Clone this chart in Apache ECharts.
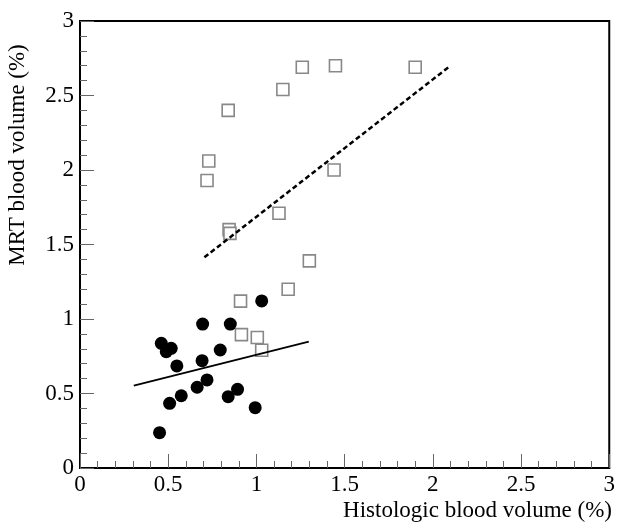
<!DOCTYPE html>
<html>
<head>
<meta charset="utf-8">
<script src="https://cdn.jsdelivr.net/npm/echarts@6/dist/echarts.min.js"></script>
<style>
  html, body { margin: 0; padding: 0; background: #fff; }
  #chart { width: 618px; height: 529px; }
</style>
</head>
<body>
<div id="chart"></div>
<script>
// MRT vs histologic blood volume

const squareX = [1.26, 1.448, 1.90, 1.15, 0.84, 0.73, 0.72, 1.44, 1.128, 0.845, 0.85, 1.30, 1.18, 0.91, 0.915, 1.005, 1.03];
const squareY = [2.69, 2.70, 2.69, 2.54, 2.40, 2.06, 1.93, 2.00, 1.71, 1.60, 1.575, 1.39, 1.20, 1.12, 0.895, 0.876, 0.79];

const circleX = [0.461, 0.489, 0.517, 0.549, 0.695, 0.852, 0.692, 0.795, 0.720, 0.664, 0.574, 0.508, 0.840, 0.893, 0.993, 0.451, 1.030];
const circleY = [0.837, 0.781, 0.803, 0.685, 0.966, 0.966, 0.720, 0.792, 0.591, 0.542, 0.485, 0.434, 0.479, 0.528, 0.405, 0.237, 1.121];

const solidFitX = [0.305, 1.297];
const solidFitY = [0.553, 0.848];
const dashedFitX = [0.705, 2.10];
const dashedFitY = [1.414, 2.70];

const xTitle = 'Histologic blood volume (%)';
const yTitle = 'MRT blood volume (%)';

const zip = (xs, ys) => xs.map((x, i) => [x, ys[i]]);

const font = 'Liberation Serif';

const axisCommon = {
    min: 0,
    max: 3,
    interval: 0.5,
    axisLine: { show: true, lineStyle: { color: '#000', width: 2 } },
    axisTick: { show: true, inside: true, length: 14, lineStyle: { color: '#666', width: 1 } },
    minorTick: { show: true, splitNumber: 5, length: 7, lineStyle: { color: '#666', width: 1 } },
    splitLine: { show: false },
    axisLabel: { color: '#000', fontFamily: font, fontSize: 23 }
};

const chart = echarts.init(document.getElementById('chart'));

chart.setOption({
    backgroundColor: '#fff',
    animation: false,
    grid: {
        left: 80, right: 6, top: 21, bottom: 61,
        show: true, borderColor: '#000', borderWidth: 2
    },
    xAxis: Object.assign({ type: 'value' }, axisCommon, {
        axisLabel: Object.assign({}, axisCommon.axisLabel, { margin: 5 })
    }),
    yAxis: Object.assign({ type: 'value' }, axisCommon, {
        axisLabel: Object.assign({}, axisCommon.axisLabel, { margin: 6 })
    }),
    graphic: [
        {
            type: 'text', right: 6, top: 499,
            style: { text: xTitle, font: '23px "Liberation Serif"', fill: '#000' }
        },
        {
            type: 'text', x: 6, y: 155, rotation: Math.PI / 2,
            style: {
                text: yTitle, font: '23px "Liberation Serif"', fill: '#000',
                align: 'center', verticalAlign: 'top'
            }
        }
    ],
    series: [
        {
            type: 'scatter',
            data: zip(squareX, squareY),
            symbol: 'rect',
            symbolSize: 12,
            itemStyle: { color: '#fff', borderColor: '#888', borderWidth: 1.6, opacity: 1 },
            z: 2
        },
        {
            type: 'line',
            data: zip(dashedFitX, dashedFitY),
            showSymbol: false,
            symbol: 'none',
            lineStyle: { color: '#000', width: 2.5, type: [5, 3] },
            z: 3
        },
        {
            type: 'line',
            data: zip(solidFitX, solidFitY),
            showSymbol: false,
            symbol: 'none',
            lineStyle: { color: '#000', width: 1.8 },
            z: 3
        },
        {
            type: 'scatter',
            data: zip(circleX, circleY),
            symbol: 'circle',
            symbolSize: 13,
            itemStyle: { color: '#000', opacity: 1 },
            z: 4
        }
    ]
});
</script>
</body>
</html>
